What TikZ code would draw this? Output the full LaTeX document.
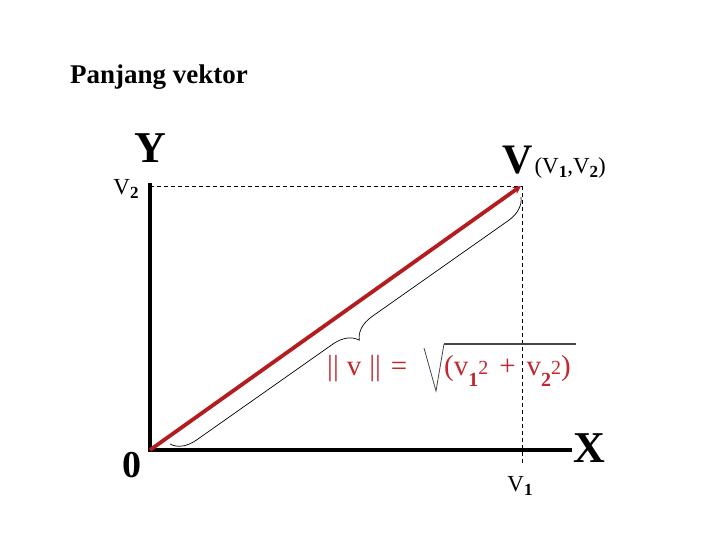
\documentclass[tikz,border=0pt]{standalone}
\usepackage{fontspec}
\setmainfont{Liberation Serif}
\usetikzlibrary{arrows.meta,decorations.pathreplacing}
\definecolor{vred}{RGB}{180,28,32}
\definecolor{fred}{RGB}{192,40,45}
\definecolor{rootgray}{RGB}{70,70,70}
\tikzset{
  axis/.style={line width=3.4pt,black},
  guide/.style={line width=0.8pt,dash pattern=on 4pt off 3pt},
  vec/.style={line width=3.8pt,vred,-{Stealth[length=8pt,width=8pt]}},
  big/.style={font=\bfseries\fontsize{44}{44}\selectfont,inner sep=0pt},
  lab/.style={font=\fontsize{23}{23}\selectfont,inner sep=0pt},
  form/.style={font=\fontsize{29}{29}\selectfont,inner sep=0pt,text=fred},
}
\newcommand{\subb}[1]{\raisebox{-0.35ex}{\fontsize{17}{17}\selectfont\bfseries #1}}
\newcommand{\fsub}[1]{\raisebox{-11pt}{\fontsize{20}{20}\selectfont\bfseries #1}}
\newcommand{\fsup}[1]{\raisebox{1pt}{\fontsize{20}{20}\selectfont #1}}
\begin{document}
\begin{tikzpicture}[x=1pt,y=-1pt]
\useasboundingbox (0,0) rectangle (720,540);
\coordinate (O) at (150,450);
\coordinate (Ytop) at (150,183);
\coordinate (Xend) at (572,450);
\coordinate (P) at (521,186);
\coordinate (Pd) at (522,186);
\coordinate (Ph) at (150,186);
\coordinate (Pb) at (522,463);
\node[font=\bfseries\fontsize{27}{27}\selectfont,inner sep=0pt] (title) at (159,77) {Panjang vektor};
\node[big] (Y) at (150,148) {Y};
\node[lab] (v2) at (126,189) {V\subb{2}};
\node[big,font=\bfseries\fontsize{42}{42}\selectfont] (V) at (518,160) {V};
\node[lab,anchor=base west] (coords) at ([xshift=1pt]V.base east) {(V\subb{1},V\subb{2})};
\node[font=\bfseries\fontsize{38}{38}\selectfont,inner sep=0pt] (zero) at (132,465) {0};
\node[big] (X) at (589,448) {X};
\node[lab] (v1) at (520,486) {V\subb{1}};
\draw[guide] (Ph) -- (Pd);
\draw[guide] (Pd) -- (Pb);
\draw[axis] (Ytop) -- (O) -- (Xend);
\draw[vec] (O) -- (P);
\draw[line width=0.7pt,decorate,decoration={brace,amplitude=24pt,mirror}] (170,444) -- (521,197);
\node[form,anchor=base west] (norm) at (327,375) {||\hspace{8pt}v\hspace{8pt}||\hspace{10pt}=};
\coordinate (r1) at (424,348);
\coordinate (r2) at (436,391);
\coordinate (r3) at (444,344);
\coordinate (r4) at (576,344);
\draw[rootgray,line width=0.8pt] (r1) -- (r2) -- (r3);
\draw[rootgray,line width=1.6pt] (r3) -- (r4);
\node[form,anchor=base west] (rad) at (444,375) {(v\fsub{1}\fsup{2}\hspace{11pt}+\hspace{11pt}v\fsub{2}\fsup{2})};
\end{tikzpicture}
\end{document}
